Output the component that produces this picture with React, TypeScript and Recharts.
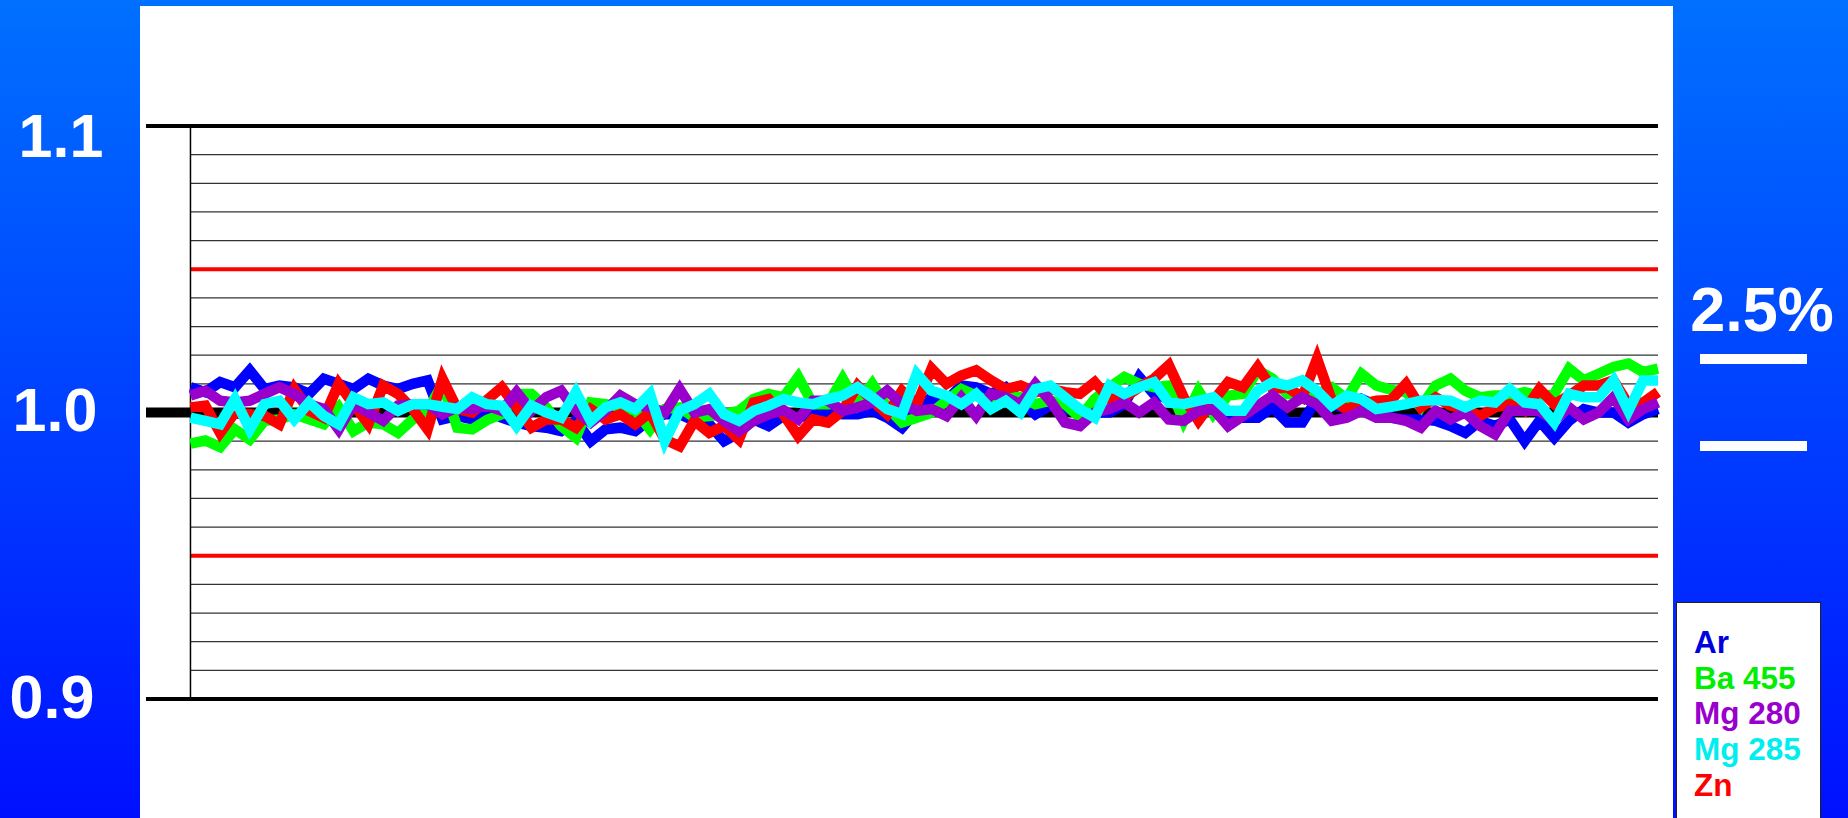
import React from 'react';
import { LineChart, Line, XAxis, YAxis, ReferenceLine } from 'recharts';

// sample index along the run
const SAMPLE = [
  0, 1, 2, 3, 4, 5, 6, 7, 8, 9, 10, 11, 12, 13, 14, 15, 16, 17, 18, 19,
  20, 21, 22, 23, 24, 25, 26, 27, 28, 29, 30, 31, 32, 33, 34, 35, 36, 37, 38, 39,
  40, 41, 42, 43, 44, 45, 46, 47, 48, 49, 50, 51, 52, 53, 54, 55, 56, 57, 58, 59,
  60, 61, 62, 63, 64, 65, 66, 67, 68, 69, 70, 71, 72, 73, 74, 75, 76, 77, 78, 79,
  80, 81, 82, 83, 84, 85, 86, 87, 88, 89, 90, 91, 92, 93, 94, 95, 96, 97, 98, 99,
];

const AR = [
  1.0088, 1.0071, 1.0106, 1.0088, 1.0147, 1.0082, 1.0094, 1.0088, 1.0065, 1.0118,
  1.01, 1.0082, 1.0118, 1.0094, 1.0082, 1.01, 1.0112, 0.9976, 0.9988, 0.9976,
  1.0006, 0.9982, 0.9965, 0.9953, 0.9947, 0.9935, 0.9971, 0.99, 0.9941, 0.9947,
  0.9935, 0.9976, 0.9994, 0.9994, 0.9971, 0.9959, 0.99, 0.9929, 0.9976, 0.9953,
  0.9988, 0.9982, 0.9994, 1.0, 0.9994, 0.9994, 1.0006, 0.9982, 0.9947, 1.0006,
  1.0053, 1.0041, 1.0094, 1.0088, 1.0065, 1.0088, 1.0041, 0.9994, 1.0024, 1.0012,
  1.0, 1.0, 1.0, 1.0029, 1.0124, 1.0065, 1.0047, 1.0006, 1.0006, 1.0012,
  0.9982, 0.9982, 0.9982, 1.0018, 0.9965, 0.9965, 1.0047, 1.0029, 1.0012, 1.0047,
  1.0024, 0.9982, 0.9976, 0.9976, 0.9971, 0.9953, 0.9929, 0.9971, 0.9953, 0.9976,
  0.99, 0.9971, 0.9912, 0.9971, 1.0012, 1.0, 1.0, 0.9965, 0.9994, 1.0012,
];

const BA = [
  0.9891, 0.9902, 0.9879, 0.9941, 0.9906, 0.9971, 0.9976, 0.9994, 0.9976, 0.9959,
  1.0018, 0.9935, 0.9965, 0.9959, 0.9929, 0.9976, 1.0006, 1.01, 0.9947, 0.9941,
  0.9974, 0.9994, 1.0065, 1.0065, 1.0018, 0.9953, 0.9912, 1.0035, 1.0029, 1.0018,
  1.0006, 0.9941, 1.0012, 1.0018, 0.9982, 0.9988, 0.9994, 1.0006, 1.0047, 1.0065,
  1.0053, 1.0124, 1.0029, 1.0029, 1.0118, 1.0029, 1.01, 1.0018, 0.9965, 0.9982,
  1.0, 1.0041, 1.0082, 1.0059, 1.0035, 1.0053, 1.0053, 1.0029, 1.0041, 1.0029,
  0.9982, 1.0047, 1.0088, 1.0124, 1.01, 1.0088, 1.0094, 0.9971, 1.0076, 0.9994,
  1.0059, 1.0065, 1.0147, 1.0118, 1.0065, 1.0065, 1.0065, 1.0088, 1.0047, 1.0135,
  1.0094, 1.0079, 1.0071, 1.0018, 1.0094, 1.0118, 1.0076, 1.0053, 1.0059, 1.0059,
  1.0071, 1.0059, 1.0065, 1.0153, 1.0112, 1.0135, 1.0159, 1.0171, 1.0141, 1.0153,
];

const MG280 = [
  1.0059, 1.0076, 1.0041, 1.0035, 1.0041, 1.0065, 1.0088, 1.0065, 1.0029, 1.0012,
  0.9941, 1.0029, 1.0, 0.9971, 1.0024, 1.0029, 1.0029, 0.9994, 1.0018, 1.0012,
  1.0024, 1.0006, 1.0071, 1.0006, 1.0053, 1.0076, 1.0006, 0.9965, 1.0006, 1.0059,
  1.0029, 1.0018, 1.0, 1.0082, 1.0, 1.0012, 0.9971, 0.9935, 0.9971, 0.9994,
  1.0009, 0.9976, 1.0041, 1.0041, 1.0006, 1.0018, 1.0035, 1.0076, 1.0029, 1.0006,
  1.0012, 0.9988, 1.0053, 0.9988, 1.0065, 1.0053, 1.0029, 1.01, 1.0041, 0.9965,
  0.9953, 1.0, 1.0012, 1.0035, 1.0, 1.0035, 0.9976, 0.9971, 1.0006, 1.0012,
  0.9953, 0.9988, 1.0024, 1.0059, 1.0018, 1.0053, 1.0029, 0.9971, 0.9982, 1.0006,
  0.9982, 0.9982, 0.9971, 0.9947, 1.0006, 0.9976, 1.0, 0.9953, 0.9924, 1.0006,
  1.0006, 1.0006, 0.9971, 1.0018, 0.9976, 1.0, 1.0053, 0.9976, 1.0012, 1.0035,
];

const MG285 = [
  0.9982, 0.9971, 0.9959, 1.0047, 0.9941, 1.0029, 1.0041, 0.9976, 1.0035, 0.9988,
  0.9959, 1.0053, 1.0029, 1.0035, 1.0006, 1.0029, 1.0029, 1.002, 1.0012, 1.0053,
  1.0029, 1.0024, 0.9953, 1.0024, 1.0, 0.9982, 1.0071, 0.9971, 1.0018, 1.0035,
  1.0012, 1.0065, 0.99, 1.0006, 1.0029, 1.0065, 0.9994, 0.9971, 1.0006, 1.0024,
  1.0047, 1.0035, 1.0029, 1.0047, 1.0059, 1.0088, 1.0053, 1.0012, 0.9994, 1.0135,
  1.0076, 1.0059, 1.0029, 1.0065, 1.0012, 1.0041, 1.0, 1.0082, 1.0094, 1.0053,
  1.0012, 0.9982, 1.0094, 1.0065, 1.0088, 1.0106, 1.0035, 1.0029, 1.0041, 1.0053,
  1.0006, 1.0006, 1.0076, 1.0106, 1.0094, 1.0112, 1.0076, 1.0024, 1.0059, 1.0047,
  1.0012, 1.002, 1.0029, 1.0041, 1.0044, 1.0041, 1.0018, 1.0041, 1.0035, 1.0082,
  1.0035, 1.0029, 0.9965, 1.0065, 1.0053, 1.0053, 1.0112, 1.0006, 1.0112, 1.0112,
];

const ZN = [
  1.0018, 1.0024, 0.9929, 1.0, 0.9994, 0.9988, 0.9959, 1.0082, 1.0006, 0.9982,
  1.01, 1.0029, 0.9959, 1.0094, 1.0065, 1.0012, 0.9941, 1.0118, 1.0012, 1.0,
  1.0044, 1.0088, 1.0018, 0.9947, 0.9976, 0.9976, 0.9947, 1.0012, 0.9976, 0.9994,
  0.9959, 1.0, 0.9906, 0.9882, 0.9971, 0.9929, 0.9953, 0.9906, 1.0035, 1.0047,
  0.9994, 0.9918, 0.9976, 0.9965, 1.0006, 1.0094, 1.0041, 0.9994, 1.0076, 1.0029,
  1.0153, 1.01, 1.0129, 1.0147, 1.0112, 1.0082, 1.0094, 1.0071, 1.0082, 1.0071,
  1.0065, 1.0106, 1.0047, 1.0053, 1.0088, 1.0118, 1.0165, 1.0053, 0.9971, 1.0041,
  1.0106, 1.0088, 1.0159, 1.0082, 1.0088, 1.0053, 1.0188, 1.0041, 1.0012, 1.0029,
  1.0041, 1.0044, 1.01, 1.0018, 1.0053, 1.0024, 1.0012, 0.9988, 1.0018, 1.0029,
  1.0006, 1.0082, 1.0029, 1.0059, 1.0094, 1.0094, 1.0112, 1.0029, 1.0035, 1.0071,
];

const SERIES = [
  { key: 'ar', name: 'Ar', color: '#0000ff', text: '#0000dd' },
  { key: 'ba', name: 'Ba 455', color: '#00ff00', text: '#00ee00' },
  { key: 'zn', name: 'Zn', color: '#ff0000', text: '#ff0000' },
  { key: 'mg280', name: 'Mg 280', color: '#9900cc', text: '#9900cc' },
  { key: 'mg285', name: 'Mg 285', color: '#00ffff', text: '#00eeee' },
];
const LEGEND_ORDER = ['ar', 'ba', 'mg280', 'mg285', 'zn'];

const Y_TICKS = [0.9, 1.0, 1.1];
const GRID_LEVELS = [
  0.91, 0.92, 0.93, 0.94, 0.96, 0.97, 0.98, 0.99,
  1.01, 1.02, 1.03, 1.04, 1.06, 1.07, 1.08, 1.09,
];
const LIMITS = [0.95, 1.05];
const TARGET = 1.0;
const SPREAD_LABEL = '2.5%';

const FONT = '"Liberation Sans", Arial, sans-serif';

const data = SAMPLE.map((i, idx) => ({
  i,
  ar: AR[idx],
  ba: BA[idx],
  mg280: MG280[idx],
  mg285: MG285[idx],
  zn: ZN[idx],
}));

const TICK_DY: Record<string, number> = { '1.1': 9, '1.0': -4, '0.9': -3 };
const TICK_X: Record<string, number> = { '1.1': 61, '1.0': 55, '0.9': 52 };

function YTick(props: any) {
  const { y, payload } = props;
  const label = Number(payload.value).toFixed(1);
  return (
    <text
      x={TICK_X[label] ?? 55}
      y={y + (TICK_DY[label] ?? 0)}
      dy={22}
      textAnchor="middle"
      fill="#ffffff"
      fontFamily={FONT}
      fontWeight="bold"
      fontSize={61}
    >
      {label}
    </text>
  );
}

export default function App() {
  return (
    <div
      style={{
        position: 'absolute',
        left: 0,
        top: 0,
        width: 1848,
        height: 818,
        overflow: 'hidden',
        background: 'linear-gradient(to bottom, #0070ff 0%, #0040ff 50%, #0010ff 100%)',
        fontFamily: FONT,
      }}
    >
      <div style={{ position: 'absolute', left: 140, top: 6, width: 1533, height: 812, background: '#ffffff' }} />

      <div style={{ position: 'absolute', left: 0, top: 0 }}>
        <LineChart width={1848} height={818} data={data} margin={{ top: 126, right: 190, bottom: 119, left: 0 }}>
          <XAxis type="number" dataKey="i" domain={[-3, 99]} hide />
          <YAxis
            type="number"
            domain={[0.9, 1.1]}
            ticks={Y_TICKS}
            width={146}
            axisLine={false}
            tickLine={false}
            tick={<YTick />}
            interval={0}
          />
          {GRID_LEVELS.map((v) => (
            <ReferenceLine
              key={`g-${v}`}
              segment={[{ x: 0, y: v }, { x: 99, y: v }]}
              stroke="#333333"
              strokeWidth={1.3}
            />
          ))}
          {LIMITS.map((v) => (
            <ReferenceLine
              key={`l-${v}`}
              segment={[{ x: 0, y: v }, { x: 99, y: v }]}
              stroke="#ff0000"
              strokeWidth={4}
            />
          ))}
          <ReferenceLine x={0} stroke="#000000" strokeWidth={1.5} />
          <ReferenceLine y={Y_TICKS[0]} stroke="#000000" strokeWidth={4} />
          <ReferenceLine y={Y_TICKS[2]} stroke="#000000" strokeWidth={4} />
          <ReferenceLine y={TARGET} stroke="#000000" strokeWidth={10} />
          {SERIES.map((s) => (
            <Line
              key={s.key}
              type="linear"
              dataKey={s.key}
              name={s.name}
              stroke={s.color}
              strokeWidth={10.5}
              strokeLinejoin="miter"
              dot={false}
              activeDot={false}
              isAnimationActive={false}
            />
          ))}
        </LineChart>
      </div>

      <div
        style={{
          position: 'absolute',
          left: 1676,
          top: 276,
          width: 172,
          textAlign: 'center',
          color: '#ffffff',
          fontWeight: 'bold',
          fontSize: 63,
          lineHeight: '66px',
        }}
      >
        {SPREAD_LABEL}
      </div>
      <div style={{ position: 'absolute', left: 1700, top: 354, width: 107, height: 10, background: '#ffffff' }} />
      <div style={{ position: 'absolute', left: 1700, top: 441, width: 107, height: 10, background: '#ffffff' }} />

      <div
        style={{
          position: 'absolute',
          left: 1676,
          top: 602,
          width: 145,
          height: 230,
          background: '#ffffff',
          border: '1px solid #222222',
          boxSizing: 'border-box',
          paddingTop: 22,
          paddingLeft: 17,
        }}
      >
        {LEGEND_ORDER.map((k) => {
          const s = SERIES.find((x) => x.key === k)!;
          return (
            <div
              key={k}
              style={{ color: s.text, fontWeight: 'bold', fontSize: 31.5, lineHeight: '35.7px', whiteSpace: 'nowrap' }}
            >
              {s.name}
            </div>
          );
        })}
      </div>
    </div>
  );
}
